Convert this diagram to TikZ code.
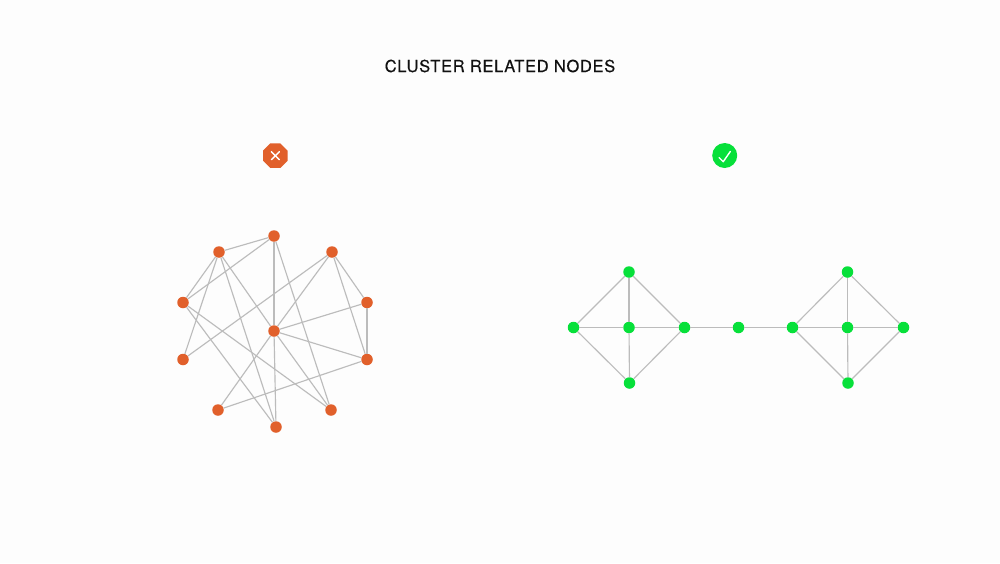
\documentclass[tikz,border=0pt]{standalone}
\usepackage{fontspec}
\usetikzlibrary{shapes.geometric}
\setmainfont{TeX Gyre Heros}[LetterSpace=4,FakeBold=0.35]
\definecolor{bgc}{HTML}{FDFDFD}
\definecolor{org}{HTML}{E1602B}
\definecolor{grn}{HTML}{07E03A}
\definecolor{edgec}{HTML}{BCBCBC}
\definecolor{ink}{HTML}{111111}
\tikzset{
  x=1pt,y=-1pt,
  dotbad/.style={circle,fill=org,inner sep=0pt,minimum size=11.5pt},
  dotgood/.style={circle,fill=grn,inner sep=0pt,minimum size=11.5pt},
  link/.style={draw=edgec,line width=1.15pt},
  markstroke/.style={draw=white,line width=1.4pt,line cap=round,line join=round},
}
\begin{document}
\begin{tikzpicture}
\useasboundingbox[fill=bgc] (0,0) rectangle (1000,563);
\node[text=ink,font=\fontsize{16.5}{20}\selectfont,inner sep=0pt] (title) at (500,66) {CLUSTER RELATED NODES};
% status icons
\node[regular polygon,regular polygon sides=8,fill=org,inner sep=0pt,minimum size=26.5pt] (bad) at (275.3,155.7) {};
\coordinate (x1) at (271.3,151.7); \coordinate (x2) at (279.3,159.7);
\coordinate (x3) at (271.3,159.7); \coordinate (x4) at (279.3,151.7);
\draw[markstroke] (x1) -- (x2) (x3) -- (x4);
\node[circle,fill=grn,inner sep=0pt,minimum size=25pt] (good) at (724.7,155.5) {};
\coordinate (c1) at (719,157.5); \coordinate (c2) at (723.2,161.7); \coordinate (c3) at (730.3,151.5);
\draw[markstroke] (c1) -- (c2) -- (c3);
% left graph
\foreach \n/\x/\y in {T/274/236,TL/219/252,RA/332/252,LA/183/302.5,RB/367/302.5,C/274/331,LB/183/359.5,RC/367/359.5,BL/218/410,BR/331/410,B/276/427}
  \node[dotbad] (\n) at (\x,\y) {};
\foreach \a/\b in {TL/T,LA/T,TL/LA,TL/LB,TL/C,TL/B,T/C,T/BR,LA/B,LA/BR,LB/RA,RA/C,RA/RB,RA/RC,RB/RC,RB/C,C/RC,C/BL,C/B,C/BR,BL/RC}
  \draw[link] (\a) -- (\b);
% right graph
\foreach \n/\x/\y in {a/573.5/327.5,b/629/272,c/629/327.5,d/629.5/383,e/684.5/327.5,f/738.5/327.5,g/792.5/327.5,h/847.5/272,i/847.5/327.5,j/848/383,k/903.5/327.5}
  \node[dotgood] (\n) at (\x,\y) {};
\foreach \a/\b in {a/b,a/c,a/d,b/c,c/d,b/e,c/e,d/e,e/f,f/g,g/h,g/i,g/j,h/i,i/j,h/k,i/k,j/k}
  \draw[link] (\a) -- (\b);
\end{tikzpicture}
\end{document}
